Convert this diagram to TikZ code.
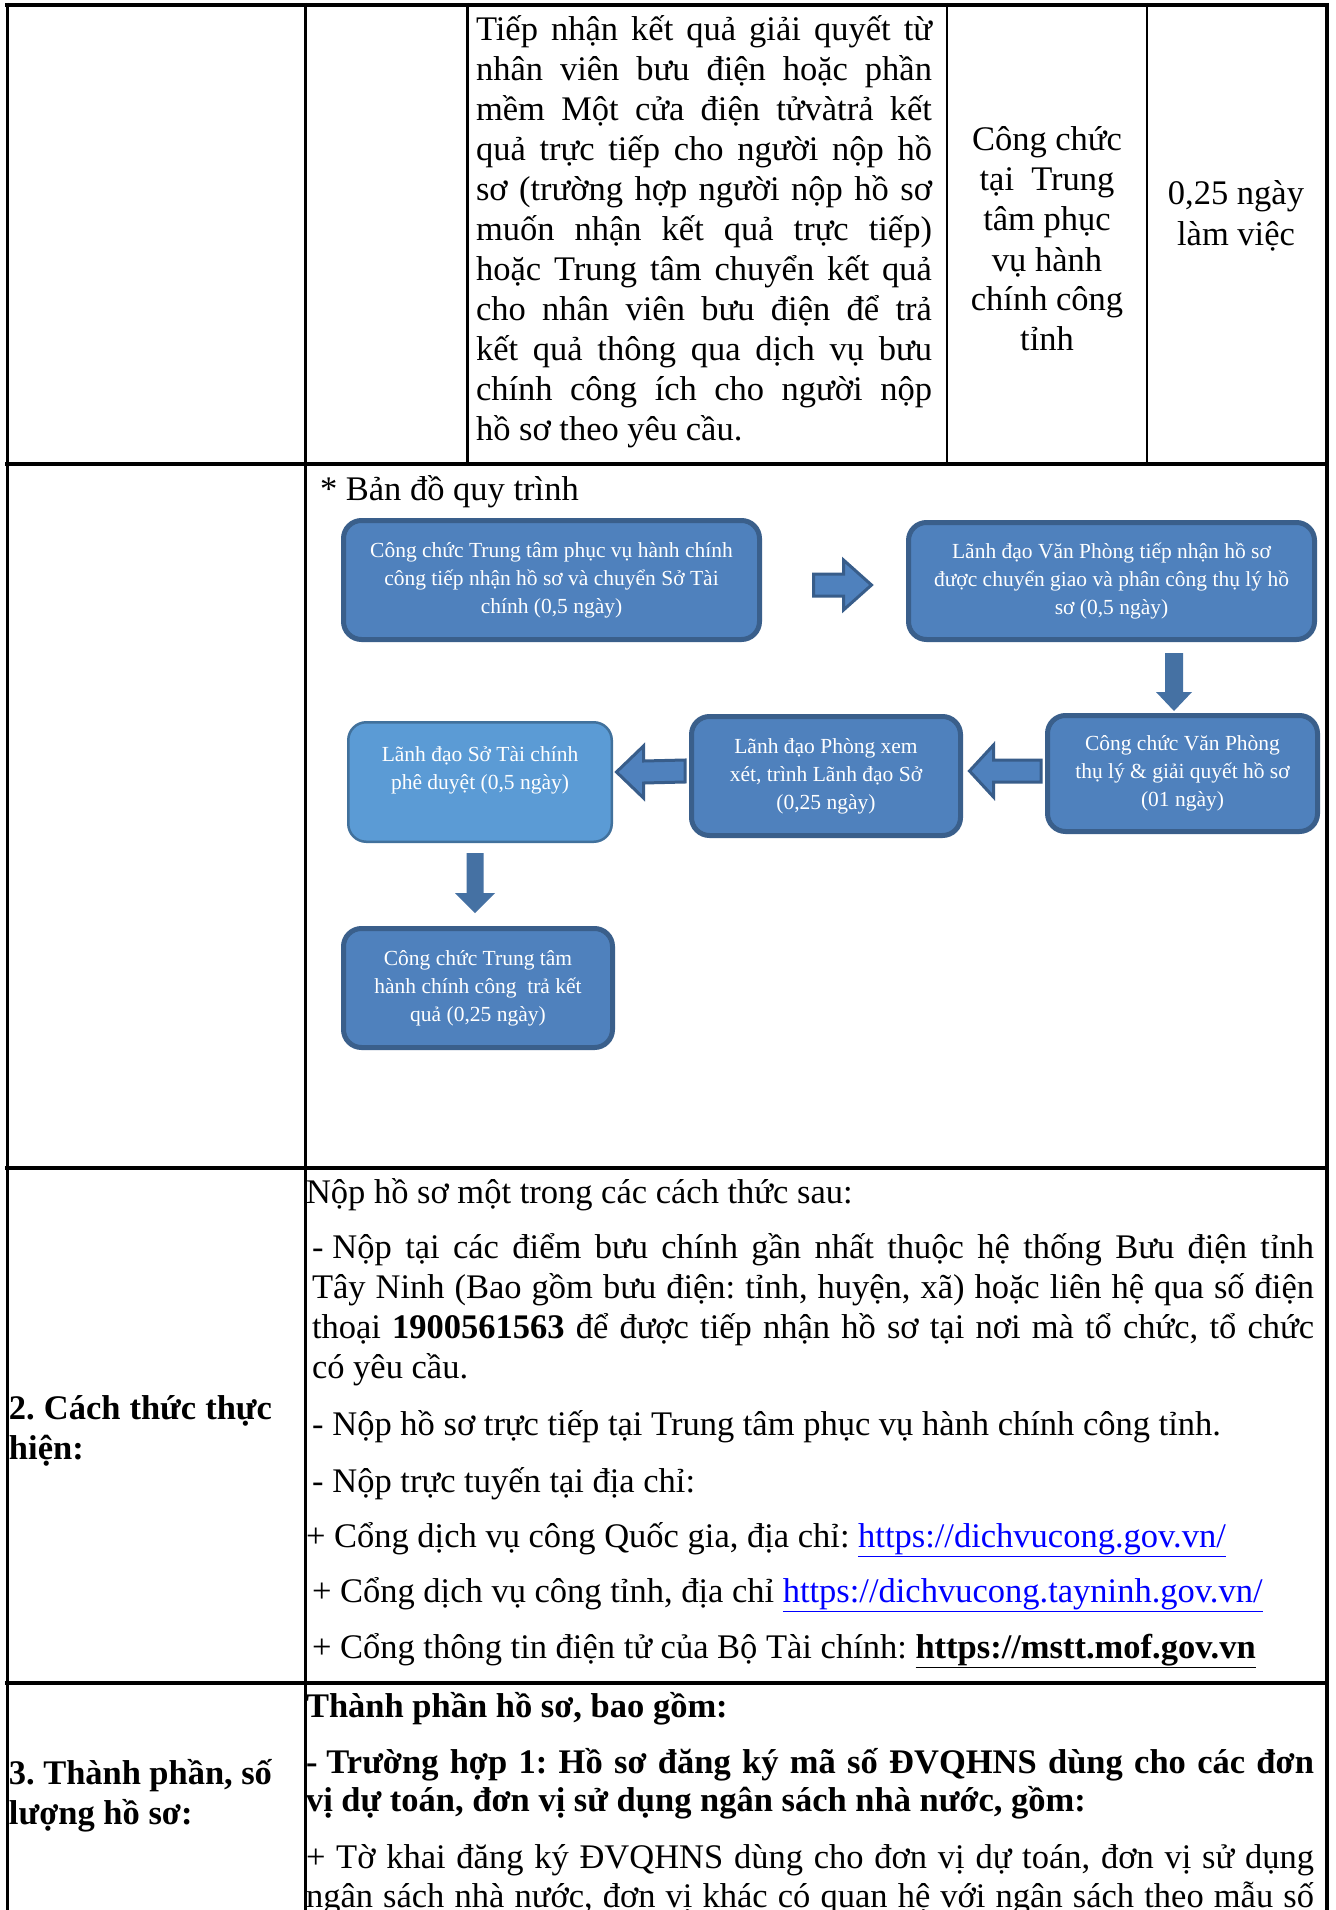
\documentclass[tikz,border=0pt]{standalone}
\usepackage{fontspec}
\setmainfont{Liberation Serif}
\usetikzlibrary{calc}
\definecolor{boxfill}{HTML}{4F81BD}
\definecolor{boxline}{HTML}{3A5F8B}
\definecolor{lightfill}{HTML}{5B9BD5}
\definecolor{lightline}{HTML}{41719C}
\definecolor{arrowline}{HTML}{385D8A}
\definecolor{darrow}{HTML}{4571A3}
\definecolor{linkblue}{HTML}{0000FF}
\newcommand\jl[2]{\makebox[#1pt][s]{#2}}
\frenchspacing
\begin{document}
\frenchspacing
\begin{tikzpicture}[x=1pt,y=-1pt,
 txt/.style={inner sep=0pt, outer sep=0pt, anchor=base west, font=\fontsize{34.5}{40}\selectfont\frenchspacing},
 txtc/.style={txt, anchor=base},
 flowbox/.style={rounded corners=18pt, fill=boxfill, draw=boxline, line width=5pt, text=white, align=center, font=\fontsize{21.5}{28}\selectfont, inner sep=0pt},
 lightbox/.style={flowbox, fill=lightfill, draw=lightline, line width=2.5pt},
 harrow/.style={fill=boxfill, draw=arrowline, line width=3pt, line join=miter},
 varrow/.style={fill=darrow, draw=none},
 hrule/.style={line width=4pt, draw=black},
 vrule/.style={line width=3pt, draw=black},
 thinrule/.style={line width=2pt, draw=black}
]
\useasboundingbox (0,0) rectangle (1335,1910);
\fill[white] (0,0) rectangle (1335,1910);

% ---------- table rules ----------
\draw[hrule] (5,5) -- (1329,5);
\draw[hrule] (5,464) -- (1329,464);
\draw[hrule] (5,1168) -- (1329,1168);
\draw[hrule] (5,1683) -- (1329,1683);
\draw[vrule] (7,3) -- (7,1912);
\draw[vrule] (305,3) -- (305,1912);
\draw[hrule] (1327,3) -- (1327,1912);
\draw[vrule] (467,3) -- (467,464);
\draw[thinrule] (947,3) -- (947,462);
\draw[thinrule] (1147,3) -- (1147,462);

% ---------- row 1 ----------
\node[txt] (r1l1) at (476,41) {\jl{456}{Tiếp nhận kết quả giải quyết từ}};
\node[txt] (r1l2) at (476,81) {\jl{456}{nhân viên bưu điện hoặc phần}};
\node[txt] (r1l3) at (476,121) {\jl{456}{mềm Một cửa điện tửvàtrả kết}};
\node[txt] (r1l4) at (476,161) {\jl{456}{quả trực tiếp cho người nộp hồ}};
\node[txt] (r1l5) at (476,201) {\jl{456}{sơ (trường hợp người nộp hồ sơ}};
\node[txt] (r1l6) at (476,241) {\jl{456}{muốn nhận kết quả trực tiếp)}};
\node[txt] (r1l7) at (476,280) {\jl{456}{hoặc Trung tâm chuyển kết quả}};
\node[txt] (r1l8) at (476,320) {\jl{456}{cho nhân viên bưu điện để trả}};
\node[txt] (r1l9) at (476,360) {\jl{456}{kết quả thông qua dịch vụ bưu}};
\node[txt] (r1l10) at (476,400) {\jl{456}{chính công ích cho người nộp}};
\node[txt] (r1l11) at (476,440) {hồ sơ theo yêu cầu.};

\node[txtc] (c4l1) at (1047,151) {Công chức};
\node[txtc] (c4l2) at (1047,191) {tại\ \ Trung};
\node[txtc] (c4l3) at (1047,231) {tâm phục};
\node[txtc] (c4l4) at (1047,271) {vụ hành};
\node[txtc] (c4l5) at (1047,310) {chính công};
\node[txtc] (c4l6) at (1047,350) {tỉnh};

\node[txtc] (c5l1) at (1236,205) {0,25 ngày};
\node[txtc] (c5l2) at (1236,246) {làm việc};

% ---------- flowchart ----------
\node[txt] (title) at (320,500) {* Bản đồ quy trình};

\node[flowbox, minimum width=416, minimum height=119] (b1) at (551.5,580)
  {Công chức Trung tâm phục vụ hành chính\\công tiếp nhận hồ sơ và chuyển Sở Tài\\chính (0,5 ngày)};
\node[flowbox, minimum width=406, minimum height=117] (b2) at (1111.5,581)
  {Lãnh đạo Văn Phòng tiếp nhận hồ sơ\\được chuyển giao và phân công thụ lý hồ\\sơ (0,5 ngày)};
\node[flowbox, minimum width=270, minimum height=116] (b3) at (1182.5,773.5)
  {Công chức Văn Phòng\\thụ lý \& giải quyết hồ sơ\\(01 ngày)};
\node[flowbox, minimum width=269, minimum height=119] (b4) at (826,776)
  {Lãnh đạo Phòng xem\\xét, trình Lãnh đạo Sở\\(0,25 ngày)};
\node[lightbox, minimum width=263.5, minimum height=119.5] (b5) at (480,782)
  {Lãnh đạo Sở Tài chính\\phê duyệt (0,5 ngày)\\~};
\node[flowbox, minimum width=269, minimum height=119] (b6) at (478,988)
  {Công chức Trung tâm\\hành chính công\ \ trả kết\\quả (0,25 ngày)};

% block arrows
\coordinate (a1s) at ($(b1.east)+(51.5,5)$);
\coordinate (a1e) at ($(b2.west)+(-34.5,4)$);
\draw[harrow] ($(a1s)+(0,-11)$) -- ($(a1e)+(-28,-11)$) -- ($(a1e)+(-28,-25)$) -- (a1e)
  -- ($(a1e)+(-28,25)$) -- ($(a1e)+(-28,11)$) -- ($(a1s)+(0,11)$) -- cycle;

\coordinate (a2s) at (1174,653);
\coordinate (a2e) at (1174,711);
\fill[varrow] ($(a2s)+(-9,0)$) -- ($(a2e)+(-9,-19)$) -- ($(a2e)+(-18,-19)$) -- (a2e)
  -- ($(a2e)+(18,-19)$) -- ($(a2e)+(9,-19)$) -- ($(a2s)+(9,0)$) -- cycle;

\coordinate (a3s) at ($(b3.west)+(-4,-2.5)$);
\coordinate (a3e) at ($(b4.east)+(6.5,-5)$);
\draw[harrow] ($(a3s)+(0,-11)$) -- ($(a3e)+(24,-11)$) -- ($(a3e)+(24,-26)$) -- (a3e)
  -- ($(a3e)+(24,26)$) -- ($(a3e)+(24,11)$) -- ($(a3s)+(0,11)$) -- cycle;

\coordinate (a4s) at ($(b4.west)+(-4,-5)$);
\coordinate (a4e) at ($(b5.east)+(3.5,-10)$);
\draw[harrow] ($(a4s)+(0,-11)$) -- ($(a4e)+(27,-11)$) -- ($(a4e)+(27,-26)$) -- (a4e)
  -- ($(a4e)+(27,26)$) -- ($(a4e)+(27,11)$) -- ($(a4s)+(0,11)$) -- cycle;

\coordinate (a5s) at (475,853);
\coordinate (a5e) at (475,913);
\fill[varrow] ($(a5s)+(-8.5,0)$) -- ($(a5e)+(-8.5,-20)$) -- ($(a5e)+(-20,-20)$) -- (a5e)
  -- ($(a5e)+(20,-20)$) -- ($(a5e)+(8.5,-20)$) -- ($(a5s)+(8.5,0)$) -- cycle;

% ---------- row 2 ----------
\node[txt] (l2a) at (9,1419) {\bfseries\jl{263}{2. Cách thức thực}};
\node[txt] (l2b) at (9,1459) {\bfseries hiện:};

\node[txt] (p0) at (306,1203) {Nộp hồ sơ một trong các cách thức sau:};
\node[txt] (p1a) at (312,1258) {\jl{1002}{-\hspace{9pt}Nộp tại các điểm bưu chính gần nhất thuộc hệ thống Bưu điện tỉnh}};
\node[txt] (p1b) at (312,1298) {\jl{1002}{Tây Ninh (Bao gồm bưu điện: tỉnh, huyện, xã) hoặc liên hệ qua số điện}};
\node[txt] (p1c) at (312,1338) {\jl{1002}{thoại \textbf{1900561563} để được tiếp nhận hồ sơ tại nơi mà tổ chức, tổ chức}};
\node[txt] (p1d) at (312,1378) {có yêu cầu.};
\node[txt] (p2) at (312,1435) {-\hspace{9pt}Nộp hồ sơ trực tiếp tại Trung tâm phục vụ hành chính công tỉnh.};
\node[txt] (p3) at (312,1492) {-\hspace{9pt}Nộp trực tuyến tại địa chỉ:};
\node[txt] (p4) at (306,1547) {+ Cổng dịch vụ công Quốc gia, địa chỉ: \textcolor{linkblue}{\underline{https://dichvucong.gov.vn/}}};
\node[txt] (p5) at (312,1602) {+ Cổng dịch vụ công tỉnh, địa chỉ \textcolor{linkblue}{\underline{https://dichvucong.tayninh.gov.vn/}}};
\node[txt] (p6) at (312,1658) {+ Cổng thông tin điện tử của Bộ Tài chính: \textbf{\underline{https://mstt.mof.gov.vn}}};

% ---------- row 3 ----------
\node[txt] (l3a) at (9,1784) {\bfseries\jl{263}{3. Thành phần, số}};
\node[txt] (l3b) at (9,1824) {\bfseries lượng hồ sơ:};

\node[txt] (q0) at (306,1717) {\bfseries Thành phần hồ sơ, bao gồm:};
\node[txt] (q1a) at (306,1773) {\bfseries\jl{1008}{-\hspace{9pt}Trường hợp 1: Hồ sơ đăng ký mã số ĐVQHNS dùng cho các đơn}};
\node[txt] (q1b) at (306,1811) {\bfseries vị dự toán, đơn vị sử dụng ngân sách nhà nước, gồm:};
\node[txt] (q2a) at (306,1868) {\jl{1008}{+ Tờ khai đăng ký ĐVQHNS dùng cho đơn vị dự toán, đơn vị sử dụng}};
\node[txt] (q2b) at (306,1907) {\jl{1008}{ngân sách nhà nước, đơn vị khác có quan hệ với ngân sách theo mẫu số}};
\end{tikzpicture}
\end{document}
